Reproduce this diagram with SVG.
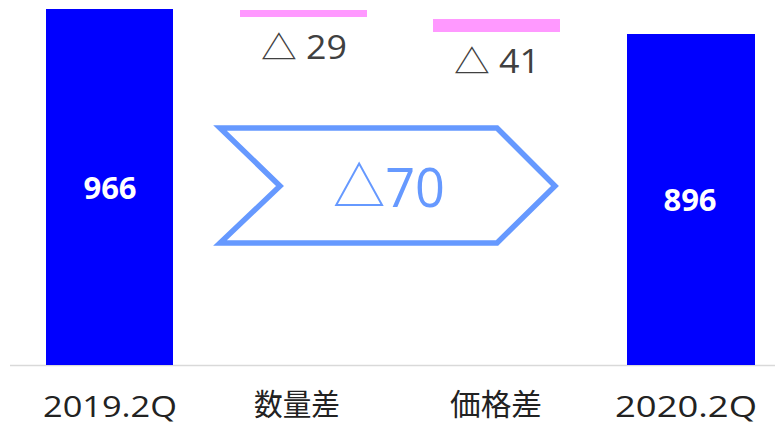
<svg xmlns="http://www.w3.org/2000/svg" width="775" height="425" viewBox="0 0 775 425">
<style>
.bar{fill:#0000ff}
.delta{fill:#ff99ff}
.val{font-family:"Open Sans","Noto Sans",sans-serif;font-weight:bold;font-size:31px;fill:#ffffff;text-anchor:middle}
.dlt{font-family:"Open Sans","Noto Sans CJK JP",sans-serif;font-size:32px;fill:#404040}
.axis{font-family:"Open Sans","Noto Sans CJK JP",sans-serif;font-size:30px;fill:#222222;text-anchor:middle}
</style>
<rect width="775" height="425" fill="#ffffff"/>
<line x1="10" y1="365.5" x2="775" y2="365.5" stroke="#d9d9d9" stroke-width="1.5"/>
<g id="bar-2019">
<rect class="bar" x="46" y="9" width="127" height="356"/>
<text class="val" x="110" y="199">966</text>
</g>
<g id="delta-volume">
<rect class="delta" x="240" y="10" width="127" height="7"/>
<text class="dlt" x="261" y="59" textLength="86" lengthAdjust="spacingAndGlyphs">△ 29</text>
</g>
<g id="delta-price">
<rect class="delta" x="433" y="19" width="127" height="13"/>
<text class="dlt" x="454" y="73" textLength="86" lengthAdjust="spacingAndGlyphs">△ 41</text>
</g>
<g id="bar-2020">
<rect class="bar" x="627" y="34" width="128" height="331"/>
<text class="val" x="690" y="211">896</text>
</g>
<g id="total-arrow">
<polygon points="220,128 497,128 555,186 497,243 220,243 280,186" fill="#ffffff" stroke="#6699ff" stroke-width="5.5" stroke-linejoin="miter"/>
<text x="333" y="207" font-family="'Open Sans','Noto Sans CJK JP',sans-serif" font-size="54" fill="#6699ff" textLength="112" lengthAdjust="spacingAndGlyphs">△70</text>
</g>
<g id="labels">
<text class="axis" x="110" y="417" textLength="134" lengthAdjust="spacingAndGlyphs">2019.2Q</text>
<text class="axis" x="297" y="415" textLength="86" lengthAdjust="spacingAndGlyphs">数量差</text>
<text class="axis" x="496" y="415" textLength="92" lengthAdjust="spacingAndGlyphs">価格差</text>
<text class="axis" x="686" y="417" textLength="142" lengthAdjust="spacingAndGlyphs">2020.2Q</text>
</g>
</svg>
